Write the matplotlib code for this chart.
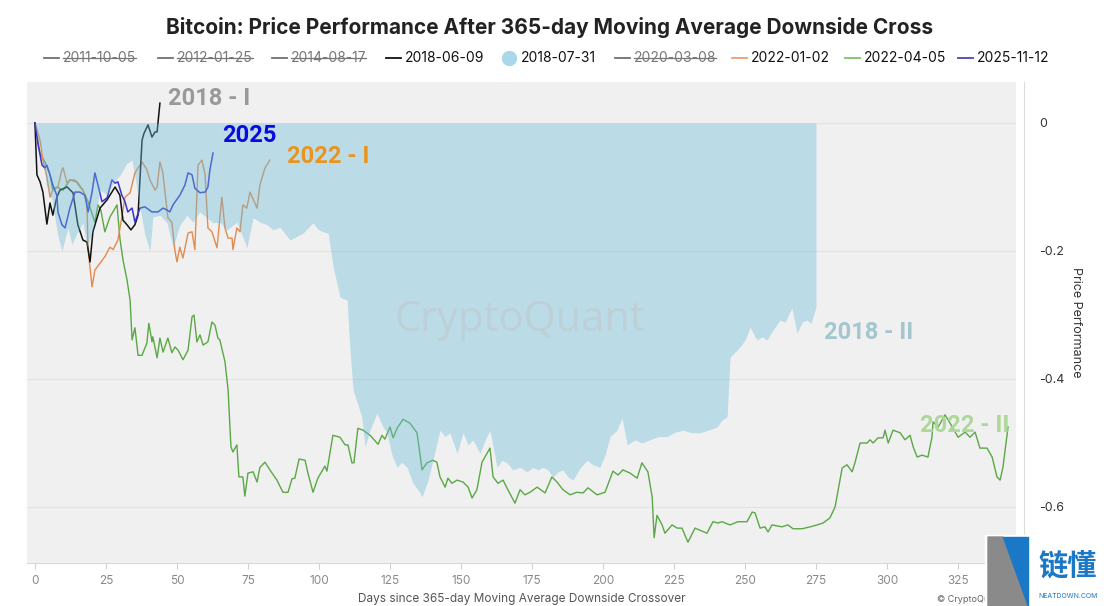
import numpy as np
import matplotlib
matplotlib.use("Agg")
import matplotlib.pyplot as plt
from matplotlib.lines import Line2D
from matplotlib.patches import Polygon, Rectangle

plt.rcParams['font.family'] = ['Inter', 'DejaVu Sans']

# ---- data (days since crossover, price performance) ----
d_2018b = [0, 1, 2.5, 4, 6, 8, 9.5, 11.6, 13, 14.8, 16.9, 18.3, 20.4, 22.9, 25.4, 27.5, 30, 32.4,
           34.2, 36.3, 38.7, 40.5, 41.5, 44, 46.5, 48.6, 51, 53.5, 55.6, 58, 60.6, 62.7, 65.1, 67.6,
           71.1, 72.9, 74.6, 76.8, 79.2, 81.7, 83.8, 86.3, 89.8, 92.3, 94.4, 97.9, 99.6, 101.4, 103.2,
           105, 107.4, 109.9, 110.9, 112, 113.7, 115.1, 116.2, 118, 120.4, 122.2, 123.9, 125.7, 127.5,
           129.2, 131, 133.1, 134.9, 136.3, 138.4, 140.1, 142.6, 144.4, 146.1, 148.6, 150.7, 152.5,
           154.2, 156.7, 158.5, 160.2, 162.7, 164.4, 166.2, 168.3, 170.8, 173.2, 175.4, 177.1, 178.9,
           180.6, 182.4, 184.2, 185.9, 187.7, 189.4, 191.9, 194.4, 196.5, 198.9, 200.7, 202.5, 204.9,
           206.7, 208.5, 211.3, 213.7, 216.5, 219.4, 222.5, 225.4, 228.2, 231.3, 234.2, 237, 240.1,
           241.9, 243.7, 244.7, 246.5, 248.2, 250, 251.8, 253.2, 254.2, 256, 257.7, 259.9, 262.3,
           264.1, 266.5, 268.3, 270.1, 271.8, 273.2, 275]
v_2018b = [0, -0.027, -0.045, -0.097, -0.12, -0.175, -0.2, -0.164, -0.19, -0.172, -0.156, -0.194,
           -0.167, -0.105, -0.112, -0.094, -0.081, -0.063, -0.058, -0.113, -0.175, -0.2, -0.147,
           -0.144, -0.156, -0.194, -0.16, -0.144, -0.155, -0.139, -0.148, -0.156, -0.155, -0.167,
           -0.155, -0.175, -0.195, -0.148, -0.155, -0.159, -0.167, -0.163, -0.183, -0.177, -0.172,
           -0.156, -0.166, -0.17, -0.172, -0.225, -0.272, -0.277, -0.355, -0.417, -0.44, -0.46,
           -0.506, -0.48, -0.453, -0.472, -0.484, -0.519, -0.538, -0.53, -0.538, -0.563, -0.573,
           -0.584, -0.558, -0.527, -0.48, -0.49, -0.484, -0.516, -0.484, -0.503, -0.495, -0.516,
           -0.495, -0.48, -0.538, -0.527, -0.531, -0.542, -0.538, -0.545, -0.538, -0.542, -0.538,
           -0.542, -0.553, -0.545, -0.542, -0.553, -0.558, -0.539, -0.527, -0.534, -0.538, -0.519,
           -0.49, -0.48, -0.461, -0.503, -0.495, -0.5, -0.495, -0.49, -0.49, -0.483, -0.48, -0.484,
           -0.484, -0.48, -0.475, -0.464, -0.459, -0.366, -0.358, -0.35, -0.339, -0.319, -0.331,
           -0.339, -0.334, -0.339, -0.323, -0.308, -0.311, -0.289, -0.328, -0.311, -0.308, -0.313,
           -0.287]

d_2018a = [0, 0.7, 1.8, 2.8, 4.2, 5.3, 6.3, 7.7, 8.8, 11.3, 13.4, 15.1, 16.9, 18.3, 19.4, 20.4, 22.9,
           25.4, 28.2, 29.9, 31, 32.4, 33.8, 35.2, 36.3, 37.7, 38.4, 39.8, 41.2, 42.3, 43, 44]
v_2018a = [0, -0.081, -0.092, -0.108, -0.158, -0.125, -0.144, -0.116, -0.105, -0.1, -0.109, -0.159,
           -0.183, -0.186, -0.217, -0.17, -0.133, -0.12, -0.1, -0.113, -0.152, -0.159, -0.167, -0.159,
           -0.144, -0.027, -0.016, -0.003, -0.022, -0.014, -0.014, 0.031]

d_2022a = [0, 1.8, 2.8, 4.2, 5.3, 6.3, 8.1, 9.5, 9.9, 11.3, 12.3, 14.1, 15.8, 16.9, 18.3, 18.7, 20.1,
           21.1, 22.9, 24.6, 26.4, 27.5, 29.2, 30.6, 31.7, 33.5, 35.2, 37.7, 39.4, 40.5, 42.3, 43, 44,
           45, 46.8, 48.2, 49.3, 50, 51, 52.1, 53.9, 55.3, 56.3, 57.4, 58.8, 59.9, 60.9, 62.3, 64.1,
           65.8, 66.9, 68, 69.4, 69.7, 71.1, 72.2, 73.2, 74.6, 75.7, 78.2, 79.2, 81, 82.7]
v_2022a = [0, -0.027, -0.058, -0.084, -0.116, -0.105, -0.1, -0.073, -0.07, -0.094, -0.089, -0.089,
           -0.1, -0.105, -0.125, -0.198, -0.256, -0.23, -0.219, -0.209, -0.194, -0.198, -0.183, -0.147,
           -0.116, -0.109, -0.078, -0.061, -0.073, -0.089, -0.105, -0.1, -0.061, -0.077, -0.148,
           -0.155, -0.2, -0.217, -0.194, -0.211, -0.172, -0.17, -0.198, -0.066, -0.058, -0.081,
           -0.164, -0.17, -0.195, -0.116, -0.164, -0.18, -0.18, -0.198, -0.164, -0.17, -0.128, -0.133,
           -0.108, -0.133, -0.097, -0.07, -0.058]

d_2022b = [0, 1.8, 3.5, 5.3, 6.3, 7.7, 9.9, 12.3, 14.8, 16.9, 18.7, 20.1, 21.1, 22.2, 23.2, 24.6,
           26.4, 28.9, 29.9, 31, 32.4, 33.5, 34.2, 35.2, 36.3, 37.7, 39.4, 40.1, 41.2, 41.5, 43, 44,
           45.1, 46.8, 48.2, 49.3, 50.4, 52.1, 53.9, 55.3, 56, 57, 58.1, 59.2, 60.9, 62.3, 63.4, 64.4,
           65.1, 66.9, 68, 69, 69.7, 71.1, 71.8, 73.2, 73.9, 75, 76.8, 78.2, 79.2, 81, 82.7, 85.2,
           87.3, 89.1, 90.5, 91.5, 93, 95.1, 96.1, 97.9, 99.6, 102.1, 102.8, 104.9, 107.4, 109.2,
           110.2, 111.6, 112.3, 113.7, 115.5, 118, 120.8, 122.2, 123.2, 125, 126.1, 127.5, 129.6, 132,
           134.5, 135.2, 136.3, 138, 140.1, 141.5, 142.6, 144.4, 145.4, 146.8, 148.6, 150.7, 152.5,
           153.9, 155.6, 157.4, 159.2, 160.2, 161.3, 163, 164.8, 166.5, 169, 170.8, 172.5, 174.3,
           176.8, 179.6, 182, 183.8, 185.9, 188.4, 190.8, 193, 194.7, 197.9, 200.7, 203.5, 205.3,
           207, 209.5, 212, 213.7, 215.8, 217.3, 218, 219, 220.8, 221.8, 224.3, 226.1, 227.8, 229.9,
           232.4, 236.6, 238.7, 240.5, 241.9, 244.7, 247.5, 250.7, 252.5, 253.5, 255.3, 257, 258.1,
           259.5, 263, 265.1, 266.9, 270.1, 272.9, 275.4, 277.5, 279.9, 281.7, 284.2, 285.9, 287.7,
           288.7, 290.5, 293, 294, 295.1, 296.8, 298.6, 299.3, 300.4, 302.1, 304.6, 306.3, 308.1,
           309.2, 310.6, 312.3, 314.4, 315.8, 316.2, 318, 320.4, 322.2, 325, 327.5, 329.2, 331,
           332.7, 335.2, 337, 338.7, 339.8, 340.8, 342.6]
v_2022b = [0, -0.047, -0.061, -0.081, -0.105, -0.1, -0.105, -0.089, -0.092, -0.105, -0.123, -0.142,
           -0.155, -0.128, -0.136, -0.17, -0.147, -0.128, -0.18, -0.214, -0.245, -0.277, -0.339,
           -0.32, -0.363, -0.363, -0.344, -0.313, -0.342, -0.334, -0.367, -0.336, -0.358, -0.336,
           -0.359, -0.35, -0.355, -0.37, -0.355, -0.303, -0.3, -0.342, -0.331, -0.347, -0.342,
           -0.311, -0.316, -0.336, -0.339, -0.373, -0.417, -0.506, -0.514, -0.503, -0.553, -0.553,
           -0.583, -0.547, -0.545, -0.561, -0.538, -0.53, -0.542, -0.558, -0.577, -0.577, -0.556,
           -0.555, -0.525, -0.527, -0.547, -0.577, -0.555, -0.536, -0.544, -0.488, -0.491, -0.503,
           -0.503, -0.531, -0.531, -0.477, -0.48, -0.488, -0.502, -0.488, -0.494, -0.475, -0.492,
           -0.477, -0.463, -0.469, -0.484, -0.506, -0.542, -0.531, -0.527, -0.53, -0.553, -0.569,
           -0.555, -0.563, -0.558, -0.561, -0.569, -0.586, -0.573, -0.53, -0.516, -0.508, -0.553,
           -0.563, -0.558, -0.573, -0.594, -0.573, -0.581, -0.577, -0.569, -0.578, -0.553, -0.561,
           -0.573, -0.581, -0.577, -0.578, -0.57, -0.581, -0.577, -0.544, -0.55, -0.542, -0.547,
           -0.555, -0.531, -0.545, -0.584, -0.648, -0.613, -0.628, -0.641, -0.628, -0.633, -0.633,
           -0.655, -0.633, -0.641, -0.623, -0.625, -0.623, -0.628, -0.623, -0.623, -0.608, -0.609,
           -0.633, -0.631, -0.639, -0.628, -0.631, -0.628, -0.634, -0.634, -0.631, -0.628, -0.625,
           -0.617, -0.6, -0.539, -0.534, -0.545, -0.531, -0.5, -0.5, -0.495, -0.5, -0.492, -0.492,
           -0.48, -0.5, -0.48, -0.484, -0.495, -0.488, -0.506, -0.522, -0.519, -0.522, -0.491,
           -0.467, -0.475, -0.456, -0.469, -0.491, -0.483, -0.491, -0.483, -0.508, -0.508, -0.522,
           -0.553, -0.558, -0.538, -0.475]

d_2025 = [0, 1.1, 2.5, 3.5, 4.2, 5.3, 6.3, 7.7, 8.1, 9.5, 10.6, 12.3, 14.1, 15.8, 17.6, 18.7, 20.1,
          21.1, 22.2, 23.6, 25.4, 27.1, 28.2, 29.2, 30.6, 31.7, 32.7, 34.2, 35.2, 37, 38.7, 41.2,
          43.3, 45.1, 46.5, 47.5, 48.6, 51, 52.8, 53.9, 55.3, 56.3, 58.1, 59.9, 60.9, 61.6, 62.7]
v_2025 = [0, -0.034, -0.066, -0.07, -0.066, -0.081, -0.097, -0.113, -0.139, -0.159, -0.164,
          -0.133, -0.108, -0.108, -0.113, -0.139, -0.108, -0.078, -0.097, -0.123, -0.117, -0.089,
          -0.094, -0.092, -0.113, -0.123, -0.139, -0.133, -0.155, -0.133, -0.131, -0.139, -0.139,
          -0.133, -0.136, -0.139, -0.128, -0.113, -0.097, -0.078, -0.081, -0.102, -0.109, -0.108,
          -0.1, -0.073, -0.047]

legend_names = ['2011-10-05', '2012-01-25', '2014-08-17', '2018-06-09', '2018-07-31',
                '2020-03-08', '2022-01-02', '2022-04-05', '2025-11-12']
legend_hidden = [True, True, True, False, False, True, False, False, False]
legend_colors = ['#6f6f6f', '#6f6f6f', '#6f6f6f', '#111111', '#a8d8ea',
                 '#6f6f6f', '#e8a070', '#7cc06a', '#4a45b8']

x_ticks = [0, 25, 50, 75, 100, 125, 150, 175, 200, 225, 250, 275, 300, 325]
y_ticks = [0, -0.2, -0.4, -0.6]

W, H = 1106, 606
fig = plt.figure(figsize=(W / 100, H / 100), dpi=100)
fig.patch.set_facecolor('white')

ax = fig.add_axes([27 / W, 1 - 563 / H, (1016 - 27) / W, (563 - 82) / H])
ax.set_facecolor('#f0f0f0')
ax.set_xlim(-2.8, 345.4)
ax.set_ylim(-0.6875, 0.064)

for y in y_ticks:
    ax.axhline(y, color='#e2e2e2', lw=0.8, zorder=0)

ax.plot(d_2022b, v_2022b, color='#5aa845', lw=1.0, zorder=2)
ax.plot(d_2022a, v_2022a, color='#e58a4e', lw=1.0, zorder=2)
ax.plot(d_2018a, v_2018a, color='#111111', lw=1.1, zorder=2)
ax.plot(d_2025, v_2025, color='#3a33cf', lw=1.1, zorder=2)
ax.fill_between(d_2018b, v_2018b, 0, color='#6cbcd7', alpha=0.4, lw=0, zorder=3)

ax.text(0.498, 0.505, 'CryptoQuant', transform=ax.transAxes, ha='center', va='center',
        fontsize=30, color='#bfcad0', alpha=0.6, family='Open Sans', zorder=4)

lab = dict(family='Roboto', fontweight='bold', fontsize=17, va='center', zorder=5)
ax.text(46.8, 0.039, '2018 - I', color='#999999', **lab)
ax.text(65.8, -0.02, '2025', color='#0a0adf', **lab)
ax.text(88.7, -0.053, '2022 - I', color='#e8951f', **lab)
ax.text(277.8, -0.328, '2018 - II', color='#a3c6cf', **lab)
ax.text(311.6, -0.472, '2022 - II', color='#aed89a', **lab)

ax.set_xticks(x_ticks)
ax.set_xticklabels([str(t) for t in x_ticks])
ax.tick_params(axis='x', colors='#cfcfcf', length=4, labelcolor='#8a8a8a', labelsize=8.5, pad=5)
ax.set_xlabel('Days since 365-day Moving Average Downside Crossover', fontsize=8.5,
              color='#555555', labelpad=4)

ax.yaxis.tick_right()
ax.yaxis.set_label_position('right')
ax.set_yticks(y_ticks)
ax.set_yticklabels(['0', '-0.2', '-0.4', '-0.6'])
ax.tick_params(axis='y', length=0, labelsize=9, labelcolor='#333333', pad=11)
ax.set_ylabel('Price Performance', rotation=270, fontsize=9, color='#333333', labelpad=12)

for s in ['top', 'left']:
    ax.spines[s].set_visible(False)
ax.spines['bottom'].set_color('#d8d8d8')
ax.spines['right'].set_position(('outward', 6))
ax.spines['right'].set_color('#dcdcdc')

fig.text(550 / W, 1 - 27 / H, 'Bitcoin: Price Performance After 365-day Moving Average Downside Cross',
         ha='center', va='center', fontsize=15, fontweight='bold', color='#222222')

# legend drawn by hand (hidden series are struck through)
line_x = [44, 158, 272, 386, 509, 615, 732, 845, 958]
ly = 1 - 58 / H
fig.canvas.draw()
rend = fig.canvas.get_renderer()
for name, hid, col, x0 in zip(legend_names, legend_hidden, legend_colors, line_x):
    if name == '2018-07-31':
        fig.add_artist(Line2D([x0 / W], [ly], marker='o', ms=10, color=col, mec=col,
                              transform=fig.transFigure))
        tx = x0 + 12
    else:
        fig.add_artist(Line2D([x0 / W, (x0 + 15) / W], [ly, ly], color=col, lw=1.3,
                              transform=fig.transFigure))
        tx = x0 + 19
    t = fig.text(tx / W, ly, name, ha='left', va='center', fontsize=10,
                 color='#777777' if hid else '#111111')
    if hid:
        bb = t.get_window_extent(renderer=rend)
        fig.add_artist(Line2D([bb.x0 / W, bb.x1 / W], [ly, ly], color='#777777', lw=0.9,
                              transform=fig.transFigure))

fig.text(937 / W, 1 - 599 / H, '© CryptoQu', fontsize=6.5, color='#666666', va='center')

# site logo overlay bottom right
fig.add_artist(Rectangle((985 / W, 0), 121 / W, 71 / H, color='white', transform=fig.transFigure,
                         zorder=6))
fig.add_artist(Polygon([(988 / W, 1 - 537 / H), (1003 / W, 1 - 537 / H), (1028 / W, 0), (988 / W, 0)],
                       closed=True, color='#8a8a8a', transform=fig.transFigure, zorder=7))
fig.add_artist(Polygon([(1003 / W, 1 - 537 / H), (1028 / W, 1 - 537 / H), (1028 / W, 0)],
                       closed=True, color='#1b78c6', transform=fig.transFigure, zorder=7))
fig.text(1068 / W, 1 - 566 / H, '链懂', family=['Noto Sans CJK SC', 'DejaVu Sans'], fontsize=21,
         fontweight='bold', color='#1b78c6', ha='center', va='center', zorder=8)
fig.text(1068 / W, 1 - 596 / H, 'NEATDOWN.COM', fontsize=5, color='#1b78c6', ha='center',
         va='center', zorder=8)

fig.savefig('out.png', dpi=100)
